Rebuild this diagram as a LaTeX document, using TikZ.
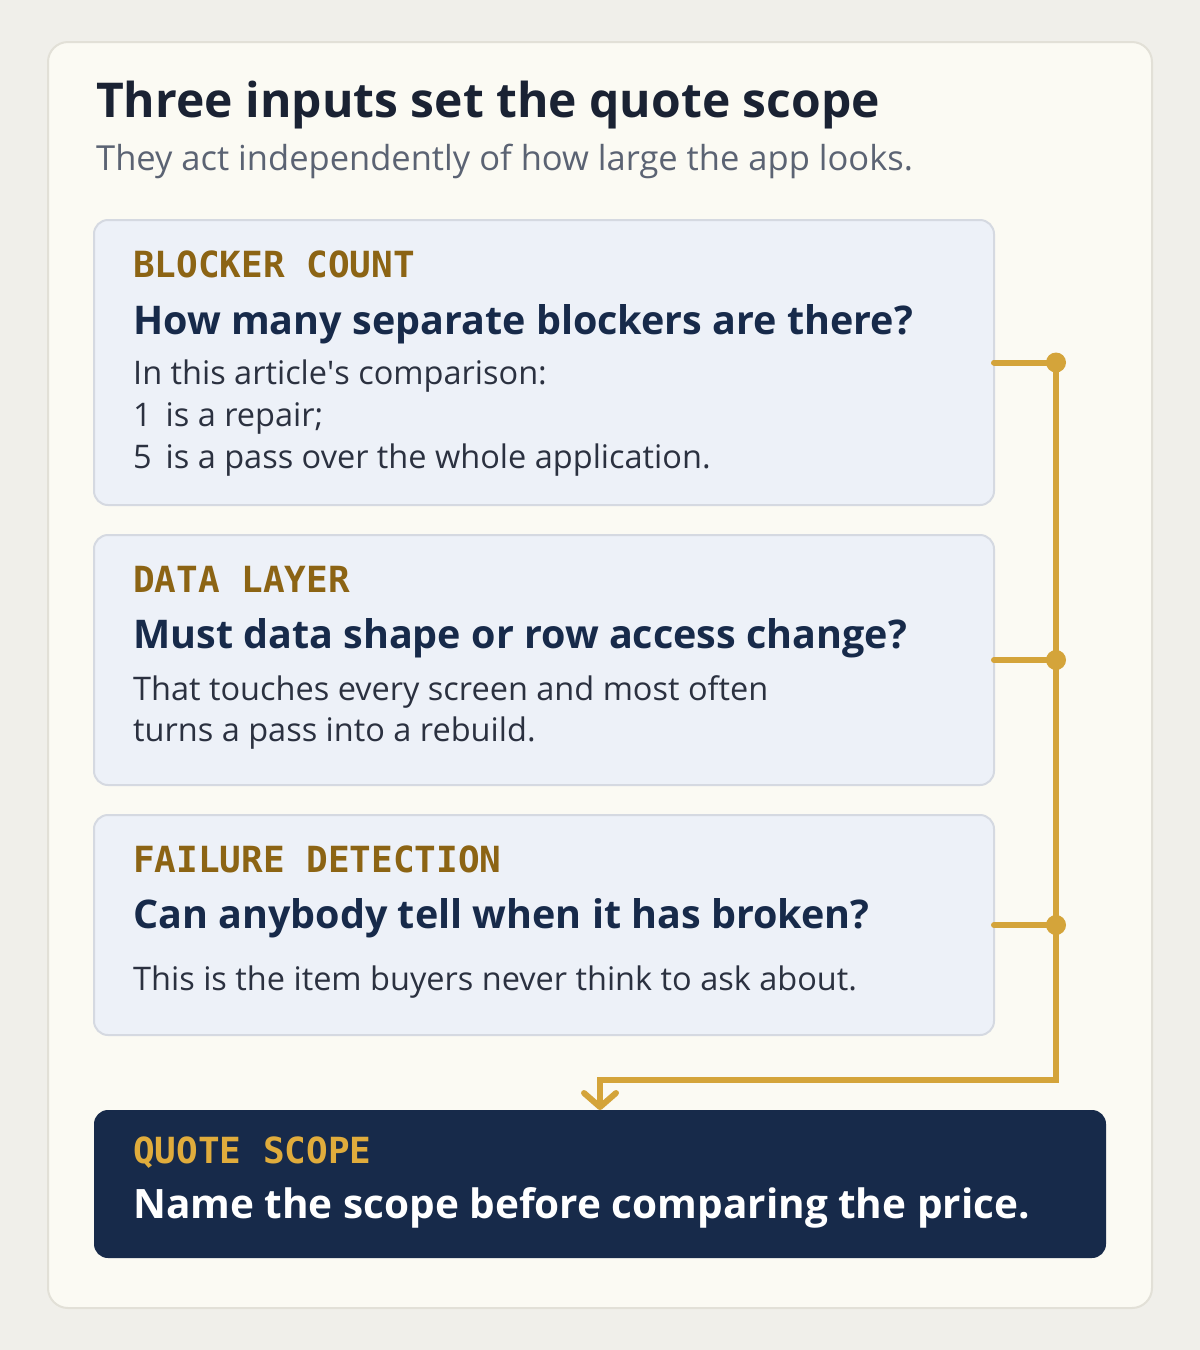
\documentclass[tikz,border=0pt]{standalone}
\usepackage{fontspec}
\setmainfont{Open Sans}
\newfontfamily\labelfont{DejaVu Sans Mono}
\usetikzlibrary{positioning, arrows.meta, backgrounds}

\definecolor{pagebg}{HTML}{F0EFEA}
\definecolor{panelfill}{HTML}{FBFAF3}
\definecolor{panelline}{HTML}{E2E0D7}
\definecolor{boxfill}{HTML}{EDF1F8}
\definecolor{boxline}{HTML}{D5D9E1}
\definecolor{navy}{HTML}{172A4A}
\definecolor{gold}{HTML}{D4A43A}
\definecolor{tagbrown}{HTML}{8C6414}
\definecolor{taggold}{HTML}{E0AC3C}
\definecolor{titleink}{HTML}{1A2233}
\definecolor{subink}{HTML}{5B6373}
\definecolor{bodyink}{HTML}{2B3140}

\tikzstyle{panel} = [rectangle, rounded corners=20pt, draw=panelline, line width=2pt, fill=panelfill, outer sep=0pt, anchor=north west]
\tikzstyle{card} = [rectangle, rounded corners=14pt, minimum width=900pt, draw=boxline, line width=2pt, fill=boxfill, outer sep=0pt, anchor=north west]
\tikzstyle{result} = [rectangle, rounded corners=14pt, minimum width=1012pt, minimum height=148pt, fill=navy, outer sep=0pt, anchor=north west]
\tikzstyle{tagtext} = [inner sep=0pt, anchor=base west, text=tagbrown, font=\labelfont\bfseries\fontsize{36}{40}\selectfont]
\tikzstyle{headtext} = [inner sep=0pt, anchor=base west, text=navy, font=\bfseries\fontsize{39.5}{46}\selectfont]
\tikzstyle{bodytext} = [inner sep=0pt, anchor=base west, text=bodyink, font=\fontsize{32.5}{42}\selectfont]
\tikzstyle{link} = [gold, line width=6pt, line cap=round]
\tikzstyle{arrow} = [link, -{Straight Barb[length=14pt, width=32pt, round]}]
\tikzstyle{joint} = [gold]

\begin{document}
\begin{tikzpicture}[x=1pt, y=1pt]

% --- Page and panel ---
\fill [pagebg] (0,0) rectangle (1200,-1350);
\node (sheet) [panel, minimum width=1104pt, minimum height=1266pt] at (48,-42) {};

% --- Heading ---
\node (title) [inner sep=0pt, anchor=base west, text=titleink, font=\bfseries\fontsize{48}{56}\selectfont] at (96,-117) {Three inputs set the quote scope};
\node (subtitle) [inner sep=0pt, anchor=base west, text=subink, font=\fontsize{34.5}{42}\selectfont] at (96,-170) {They act independently of how large the app looks.};

% --- Input cards ---
\node (blocker) [card, minimum height=285pt] at (94,-220) {};
\node (datalayer) [card, minimum height=250pt, below=30pt of blocker] {};
\node (detection) [card, minimum height=220pt, below=30pt of datalayer] {};
\node (scope) [result, below=75pt of detection.south west, anchor=north west] {};

% --- Card texts ---
\node (blockerTag) [tagtext] at ([shift={(39pt,-57pt)}]blocker.north west) {BLOCKER COUNT};
\node (blockerHead) [headtext] at ([yshift=-57pt]blockerTag.base west) {How many separate blockers are there?};
\node (blockerLineA) [bodytext] at ([yshift=-50pt]blockerHead.base west) {In this article\textquotesingle s comparison:};
\node (blockerLineB) [bodytext] at ([yshift=-42pt]blockerLineA.base west) {1\, is a repair;};
\node (blockerLineC) [bodytext] at ([yshift=-42pt]blockerLineB.base west) {5\, is a pass over the whole application.};

\node (dataTag) [tagtext] at ([shift={(39pt,-57pt)}]datalayer.north west) {DATA LAYER};
\node (dataHead) [headtext] at ([yshift=-56pt]dataTag.base west) {Must data shape or row access change?};
\node (dataLineA) [bodytext] at ([yshift=-52pt]dataHead.base west) {That touches every screen and most often};
\node (dataLineB) [bodytext] at ([yshift=-41pt]dataLineA.base west) {turns a pass into a rebuild.};

\node (detectTag) [tagtext] at ([shift={(39pt,-57pt)}]detection.north west) {FAILURE DETECTION};
\node (detectHead) [headtext] at ([yshift=-56pt]detectTag.base west) {Can anybody tell when it has broken?};
\node (detectLineA) [bodytext] at ([yshift=-62pt]detectHead.base west) {This is the item buyers never think to ask about.};

\node (scopeTag) [tagtext, text=taggold] at ([shift={(39pt,-53pt)}]scope.north west) {QUOTE SCOPE};
\node (scopeHead) [headtext, text=white, font=\bfseries\fontsize{40.5}{46}\selectfont] at ([yshift=-55pt]scopeTag.base west) {Name the scope before comparing the price.};

% --- Connectors ---
\coordinate (jBlocker) at ([xshift=62pt]blocker.east);
\coordinate (jData) at ([xshift=62pt]datalayer.east);
\coordinate (jDetect) at ([xshift=62pt]detection.east);
\coordinate (bend) at ([yshift=30pt]scope.north -| jBlocker);

\draw [link] (blocker.east) -- (jBlocker);
\draw [link] (datalayer.east) -- (jData);
\draw [link] (detection.east) -- (jDetect);
\draw [arrow] (jBlocker) -- (bend) -| (scope.north);

\fill [joint] (jBlocker) circle (10pt);
\fill [joint] (jData) circle (10pt);
\fill [joint] (jDetect) circle (10pt);

\end{tikzpicture}
\end{document}
